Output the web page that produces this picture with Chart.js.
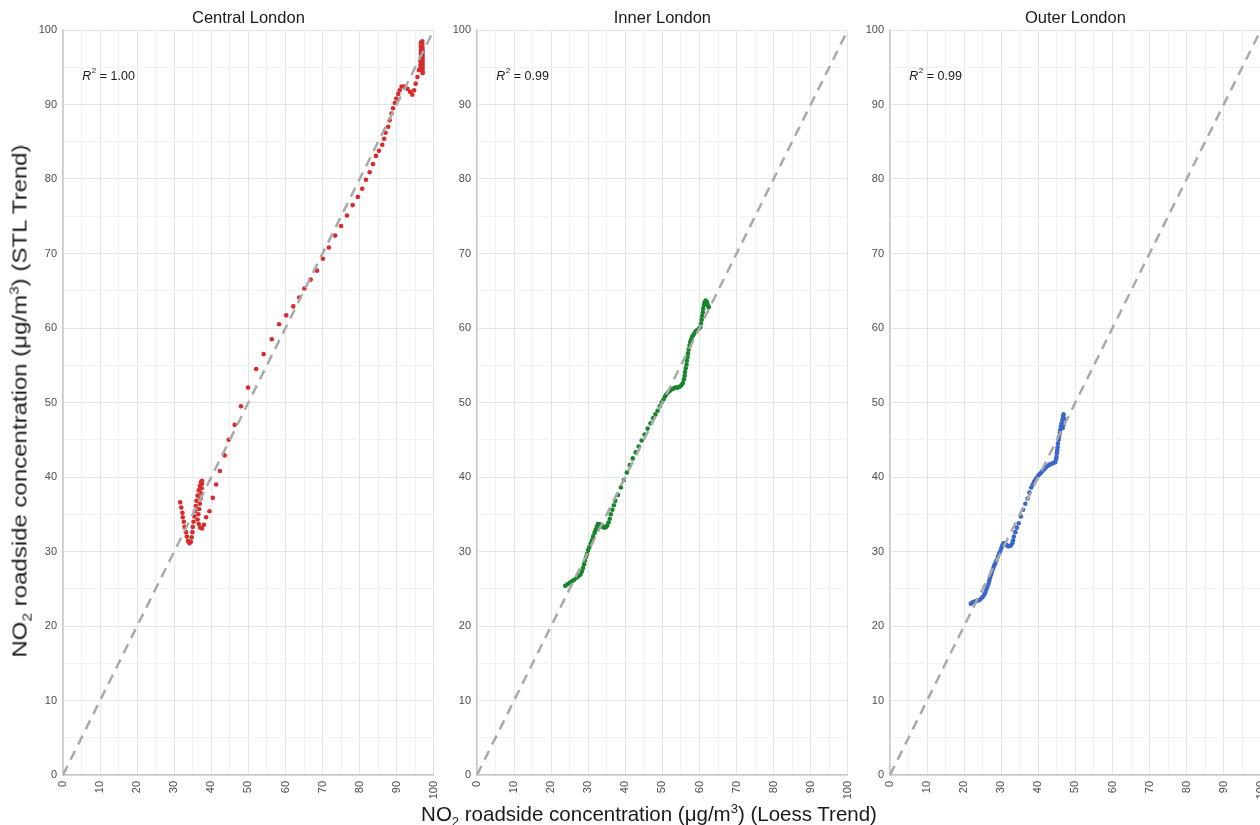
<!DOCTYPE html>
<html>
<head>
<meta charset="utf-8">
<script src="https://cdn.jsdelivr.net/npm/chart.js@4.4.1/dist/chart.umd.min.js"></script>
<style>
  html, body { margin: 0; padding: 0; background: #fff; overflow: hidden; }
  body { width: 1260px; height: 825px; position: relative; font-family: "Liberation Sans", Arial, sans-serif; }
  canvas { position: absolute; top: 0; }
  .ytitle { position: absolute; left: 20px; top: 401px; transform: translate(-50%, -50%) rotate(-90deg) scaleX(1.2); white-space: nowrap; font-size: 20px; color: #1a1a1a; }
  .xtitle { position: absolute; left: 649px; top: 814px; transform: translate(-50%, -50%); white-space: nowrap; font-size: 20.5px; color: #1a1a1a; }
  sub, sup { font-size: 13px; line-height: 0; }
</style>
</head>
<body>
<canvas id="c0" width="430" height="805" style="left:23px;width:430px;height:805px"></canvas>
<canvas id="c1" width="430" height="805" style="left:437px;width:430px;height:805px"></canvas>
<canvas id="c2" width="430" height="805" style="left:850px;width:430px;height:805px"></canvas>
<div class="ytitle">NO<sub>2</sub> roadside concentration (μg/m<sup>3</sup>) (STL Trend)</div>
<div class="xtitle">NO<sub>2</sub> roadside concentration (μg/m<sup>3</sup>) (Loess Trend)</div>
<script>
// panels
var panelTitles = ['Central London', 'Inner London', 'Outer London'];
var rSquared = ['1.00', '0.99', '0.99'];
var seriesColors = ['#d92b2b', '#17852b', '#3a66c9'];
var tickValues = [0, 10, 20, 30, 40, 50, 60, 70, 80, 90, 100];

// [loess trend, stl trend]
var centralPoints = [
  [96.9,98.5],[96.9,98.1],[96.9,97.7],[97.0,97.3],[97.0,96.9],[97.0,96.5],[97.0,96.1],[97.0,95.7],[97.0,95.3],[97.0,94.9],[97.0,94.5],[97.0,94.2],
  [96.5,98.3],[96.5,97.8],[96.5,97.3],[96.5,96.8],[96.5,96.3],[96.4,95.8],[96.4,95.3],[96.3,94.8],
  [96.0,94.6],[95.6,93.7],[95.1,92.8],[94.7,91.9],[94.2,91.3],[93.6,91.7],[92.9,92.1],[92.0,92.4],[91.3,92.4],[90.8,91.9],
  [90.4,91.4],[89.9,90.8],[89.5,90.2],[89.0,89.5],[88.6,88.8],[88.1,87.9],[87.7,87.0],[87.0,86.2],[86.6,85.4],[86.1,84.6],
  [85.2,83.8],[84.4,83.1],[83.6,82.0],[82.7,80.9],[81.7,79.9],[80.7,78.7],[79.5,77.6],[78.1,76.5],[76.6,75.1],[75.0,73.7],
  [73.4,72.4],[71.7,70.8],[70.1,69.3],[68.5,67.7],[66.8,66.5],[65.1,65.3],[63.7,64.1],[62.1,62.9],[60.2,61.7],[58.3,60.5],
  [56.3,58.5],[54.1,56.5],[52.1,54.5],[49.9,52.0],[48.0,49.5],[46.3,47.0],[44.7,45.0],[43.6,42.9],[42.3,40.8],[41.3,39.0],
  [40.4,37.2],[39.5,35.4],[38.6,34.6],[38.0,33.6],[37.5,33.1],[37.0,33.2],[36.6,33.7],
  [36.3,34.3],[36.5,35.0],[36.7,35.7],[36.9,36.4],[37.1,37.1],[37.3,37.8],[37.4,38.5],[37.5,39.1],[37.5,39.5],
  [34.5,31.3],[34.7,31.9],[34.9,32.6],[35.0,33.3],[35.2,34.0],[35.4,34.7],[35.6,35.4],[35.8,36.1],[36.0,36.8],[36.3,37.5],[36.6,38.2],[36.9,38.8],[37.2,39.3],
  [34.1,31.1],[33.7,31.4],[33.4,32.0],[33.2,32.6],[32.8,33.3],[32.6,34.0],[32.3,34.6],[32.2,35.2],[31.9,35.9],[31.6,36.6]
];

var innerPoints = [
  [23.8,25.4],[24.4,25.6],[25.0,25.8],[25.6,26.0],[26.2,26.2],[26.9,26.5],[27.4,26.7],[27.9,26.9],[28.3,27.3],[28.6,27.8],
  [28.9,28.3],[29.1,28.8],[29.4,29.3],[29.7,29.7],[30.0,30.2],[30.3,30.6],[30.7,31.1],[31.0,31.5],[31.3,32.0],[31.7,32.5],
  [32.0,32.9],[32.3,33.3],[32.6,33.7],[32.9,33.7],[33.2,33.6],[33.6,33.4],[34.0,33.3],[34.4,33.2],[34.8,33.3],[35.1,33.5],
  [35.5,33.9],[35.8,34.4],[36.1,35.0],[36.5,35.6],[36.9,36.2],[37.3,36.8],
  [38.0,37.6],[38.8,38.6],[39.6,39.6],[40.4,40.6],[41.2,41.6],[42.0,42.5],[42.8,43.3],[43.6,44.1],[44.4,44.9],[45.2,45.7],
  [46.0,46.5],[46.8,47.2],[47.5,47.9],[48.1,48.4],[48.7,48.9],[49.3,49.5],[49.8,50.0],
  [50.3,50.4],[50.7,50.8],[51.1,51.1],[51.6,51.4],[52.1,51.6],[52.6,51.8],[53.1,51.9],[53.6,52.0],[54.1,52.0],[54.6,52.1],
  [55.1,52.3],[55.5,52.6],[55.8,53.1],[56.0,53.6],[56.1,54.1],[56.3,54.6],[56.5,55.1],[56.6,55.6],[56.8,56.1],[56.9,56.6],
  [57.1,57.1],[57.3,57.6],[57.5,58.1],[57.8,58.5],[58.1,58.9],[58.5,59.2],[58.9,59.5],[59.3,59.7],[59.8,59.9],[60.2,60.1],
  [60.4,60.6],[60.6,61.1],[60.7,61.6],[60.9,62.1],[61.0,62.6],[61.2,63.1],[61.4,63.5],[61.7,63.7],[62.0,63.5],[62.2,63.1],[62.5,62.8]
];

var outerPoints = [
  [21.8,23.0],[22.4,23.2],[23.0,23.3],[23.6,23.4],[24.1,23.5],[24.6,23.7],[25.0,23.9],[25.4,24.2],[25.7,24.5],[26.0,24.9],
  [26.3,25.3],[26.6,25.7],[26.8,26.1],[27.0,26.5],[27.3,26.9],[27.5,27.3],[27.8,27.7],[28.1,28.1],[28.4,28.4],[28.7,28.8],
  [29.1,29.3],[29.4,29.7],[29.7,30.0],[30.0,30.4],[30.3,30.8],[30.6,31.1],[31.0,31.1],[31.4,30.9],[31.8,30.7],[32.2,30.7],
  [32.6,30.8],[33.0,31.1],[33.2,31.5],[33.4,32.0],[33.8,32.6],[34.2,33.2],[34.7,33.8],[35.3,34.7],[35.9,35.6],[36.5,36.4],
  [37.1,37.1],[37.6,37.9],[38.1,38.6],[38.5,39.0],[38.9,39.4],[39.3,39.7],[39.6,39.9],[40.0,40.2],[40.4,40.4],[40.8,40.6],
  [41.1,40.8],[41.5,41.0],[41.9,41.2],[42.3,41.4],[42.8,41.6],[43.2,41.7],[43.7,41.8],[44.1,41.9],[44.6,42.0],[44.8,42.4],
  [44.9,42.7],[45.0,43.2],[45.1,43.6],[45.2,44.0],[45.3,44.5],[45.5,45.0],[45.6,45.4],[45.8,45.9],[45.9,46.3],[46.1,46.8],
  [46.3,47.2],[46.5,47.7],[46.7,48.1],[46.8,48.4],[47.0,47.8],[46.9,47.1],[46.6,46.6]
];

var identityLine = [[0, 0], [100, 100]];

var allPoints = [centralPoints, innerPoints, outerPoints];
var FONT = '"Liberation Sans", Arial, sans-serif';

function toXY(arr) {
    return arr.map(function (p) { return { x: p[0], y: p[1] }; });
}

// panel title + R² label
var annotate = {
    id: 'annotate',
    afterDraw: function (chart) {
        var ctx = chart.ctx;
        var area = chart.chartArea;
        var idx = chart.options.plugins.annotate.index;
        ctx.save();
        ctx.fillStyle = '#1a1a1a';
        ctx.font = '16.5px ' + FONT;
        ctx.textAlign = 'center';
        ctx.textBaseline = 'middle';
        ctx.fillText(panelTitles[idx], (area.left + area.right) / 2, 18);

        var x = chart.scales.x.getPixelForValue(5.2);
        var y = chart.scales.y.getPixelForValue(93.8);
        ctx.textAlign = 'left';
        ctx.font = 'italic 12.5px ' + FONT;
        ctx.fillText('R', x, y);
        x += ctx.measureText('R').width + 0.5;
        ctx.font = '8px ' + FONT;
        ctx.fillText('2', x, y - 5);
        x += ctx.measureText('2').width;
        ctx.font = '12.5px ' + FONT;
        ctx.fillText(' = ' + rSquared[idx], x, y);
        ctx.restore();
    }
};

function gridColor(c) {
    return (c.tick && c.tick.value % 10 === 0) ? '#e4e4e4' : '#f1f1f1';
}

function tickLabel(value) {
    return tickValues.indexOf(value) >= 0 ? String(value) : '';
}

for (var i = 0; i < 3; i++) {
    var ctx = document.getElementById('c' + i).getContext('2d');
    new Chart(ctx, {
        type: 'scatter',
        data: {
            datasets: [{
                type: 'line',
                data: toXY(identityLine),
                borderColor: '#a9a9a9',
                borderWidth: 2.5,
                borderDash: [10, 7],
                pointRadius: 0,
                fill: false,
                order: 0
            }, {
                data: toXY(allPoints[i]),
                backgroundColor: seriesColors[i],
                borderWidth: 0,
                pointRadius: 2.3,
                order: 1
            }]
        },
        options: {
            responsive: false,
            animation: false,
            layout: { padding: { left: 0, right: 14, top: 30, bottom: 0 } },
            plugins: {
                legend: { display: false },
                tooltip: { enabled: false },
                annotate: { index: i }
            },
            scales: {
                x: {
                    type: 'linear',
                    min: 0,
                    max: 100,
                    afterFit: function (s) { s.height = 30; },
                    grid: { color: gridColor, lineWidth: 1, drawTicks: false },
                    border: { color: '#c9c9c9', width: 1.5 },
                    ticks: {
                        stepSize: 5,
                        autoSkip: false,
                        minRotation: 90,
                        maxRotation: 90,
                        padding: 6,
                        color: '#4d4d4d',
                        font: { size: 11, family: FONT },
                        callback: tickLabel
                    }
                },
                y: {
                    type: 'linear',
                    min: 0,
                    max: 100,
                    afterFit: function (s) { s.width = 40; },
                    grid: { color: gridColor, lineWidth: 1, drawTicks: false },
                    border: { color: '#c9c9c9', width: 1.5 },
                    ticks: {
                        stepSize: 5,
                        autoSkip: false,
                        padding: 6,
                        color: '#4d4d4d',
                        font: { size: 11, family: FONT },
                        callback: tickLabel
                    }
                }
            }
        },
        plugins: [annotate]
    });
}
</script>
</body>
</html>
